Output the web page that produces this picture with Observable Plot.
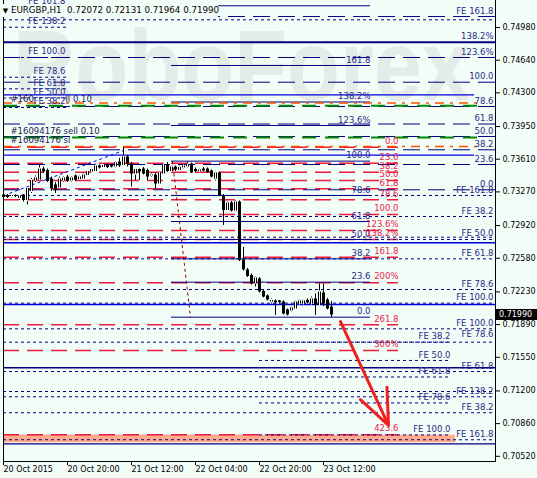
<!DOCTYPE html>
<html><head><meta charset="utf-8">
<script src="https://cdn.jsdelivr.net/npm/d3@7"></script>
<script src="https://cdn.jsdelivr.net/npm/@observablehq/plot@0.6"></script>
<style>
html,body{margin:0;padding:0;background:#f3fdf8;}
#wrap{position:relative;width:537px;height:478px;overflow:hidden;background:#f3fdf8;font-family:"DejaVu Sans",sans-serif;}
#wm{position:absolute;left:0;top:0;}
#chart{position:absolute;left:0;top:0;}
#hdr{position:absolute;left:0;top:4px;height:13px;width:218px;background:#f3fdf8;font-size:8.7px;line-height:13px;color:#000;white-space:pre;}
#price{position:absolute;left:496px;width:41px;height:11px;background:#000;color:#fff;font-size:8px;line-height:11px;padding-left:3px;box-sizing:border-box;}
</style></head>
<body>
<div id="wrap">
  <svg id="wm" width="537" height="478"><text x="13" y="100" font-family="Liberation Sans, Arial, sans-serif" font-weight="bold" font-size="100" fill="#e3ece9" textLength="457" lengthAdjust="spacingAndGlyphs">RoboForex</text></svg>
  <div id="chart"></div>
  <div id="hdr"> <span style="font-size:7px">▼</span> EURGBP,H1  0.72072 0.72131 0.71964 0.71990</div>
  <div id="price"></div>
</div>
<script>
// ---- candles (EURGBP H1, hour index from 20 Oct 04:00) ----
const opens  = [0.73212,0.73233,0.73222,0.73233,0.73202,0.73238,0.73181,0.73274,0.73389,0.73394,0.73508,0.73493,0.73404,0.73342,0.73311,0.73389,0.73425,0.73384,0.73436,0.73399,0.73404,0.73441,0.73477,0.73482,0.73540,0.73524,0.73550,0.73545,0.73529,0.73581,0.73545,0.73633,0.73560,0.73456,0.73503,0.73508,0.73493,0.73436,0.73446,0.73352,0.73456,0.73550,0.73482,0.73529,0.73493,0.73519,0.73529,0.73560,0.73503,0.73482,0.73508,0.73508,0.73488,0.73404,0.73467,0.73233,0.73077,0.73155,0.73071,0.73165,0.72562,0.72458,0.72401,0.72323,0.72364,0.72234,0.72188,0.72125,0.72136,0.72136,0.72125,0.72042,0.72032,0.72052,0.72104,0.72104,0.72141,0.72104,0.72156,0.72089,0.72219,0.72146,0.72072];
const highs  = [0.73254,0.73243,0.73243,0.73238,0.73233,0.73243,0.73316,0.73410,0.73436,0.73545,0.73529,0.73508,0.73425,0.73368,0.73425,0.73430,0.73441,0.73430,0.73446,0.73436,0.73462,0.73493,0.73514,0.73560,0.73550,0.73555,0.73560,0.73555,0.73586,0.73618,0.73732,0.73649,0.73576,0.73508,0.73508,0.73524,0.73508,0.73467,0.73462,0.73482,0.73560,0.73576,0.73540,0.73540,0.73540,0.73550,0.73581,0.73571,0.73519,0.73508,0.73524,0.73519,0.73498,0.73477,0.73477,0.73243,0.73170,0.73170,0.73181,0.73176,0.72692,0.72474,0.72416,0.72390,0.72380,0.72245,0.72198,0.72156,0.72146,0.72141,0.72136,0.72052,0.72078,0.72136,0.72146,0.72146,0.72156,0.72177,0.72208,0.72312,0.72312,0.72162,0.72131];
const lows   = [0.73196,0.73202,0.73207,0.73212,0.73181,0.73165,0.73134,0.73254,0.73368,0.73384,0.73462,0.73368,0.73274,0.73254,0.73300,0.73373,0.73368,0.73368,0.73378,0.73389,0.73399,0.73430,0.73467,0.73472,0.73508,0.73514,0.73514,0.73519,0.73519,0.73524,0.73534,0.73529,0.73321,0.73389,0.73389,0.73446,0.73389,0.73420,0.73300,0.73347,0.73451,0.73472,0.73472,0.73482,0.73482,0.73508,0.73519,0.73462,0.73472,0.73472,0.73477,0.73462,0.73415,0.73384,0.73222,0.72921,0.73066,0.73061,0.73061,0.72546,0.72448,0.72380,0.72302,0.72281,0.72219,0.72167,0.72136,0.72104,0.71985,0.72110,0.71990,0.71980,0.72021,0.72047,0.72099,0.72094,0.72104,0.72099,0.71985,0.72078,0.72078,0.72042,0.71964];
const closes = [0.73238,0.73212,0.73233,0.73222,0.73228,0.73181,0.73306,0.73389,0.73415,0.73508,0.73477,0.73378,0.73300,0.73285,0.73404,0.73415,0.73378,0.73415,0.73389,0.73425,0.73446,0.73482,0.73503,0.73540,0.73519,0.73545,0.73524,0.73529,0.73571,0.73540,0.73633,0.73560,0.73456,0.73503,0.73477,0.73456,0.73425,0.73446,0.73352,0.73467,0.73545,0.73482,0.73529,0.73498,0.73524,0.73540,0.73550,0.73467,0.73482,0.73498,0.73488,0.73472,0.73425,0.73467,0.73233,0.73077,0.73155,0.73071,0.73165,0.72557,0.72458,0.72390,0.72312,0.72375,0.72229,0.72177,0.72146,0.72141,0.72115,0.72120,0.72000,0.71990,0.72063,0.72125,0.72136,0.72136,0.72115,0.72156,0.72089,0.72229,0.72104,0.72052,0.71990];

// ---- axes ----
const yTicks = [0.74980,0.74640,0.74300,0.73950,0.73610,0.73270,0.72920,0.72580,0.72230,0.71890,0.71550,0.71200,0.70860,0.70520];
const xTicks = [0,16,32,48,64,80];
const xTickLabels = ["20 Oct 2015","20 Oct 20:00","21 Oct 12:00","22 Oct 04:00","22 Oct 20:00","23 Oct 12:00"];

// ---- long-dash FE expansion levels (full width, labels at right) ----
const feDashPrices = [0.75094,0.74668,0.74411,0.74158,0.73976,0.73846,0.73708,0.73555,0.73292];
const feDashLabels = ["FE 161.8","123.6%","100.0","78.6","61.8","50.0","38.2","23.6","0.0"];
const feSolidPrices = [0.74827];
const feSolidLabels = ["138.2%"];

// ---- navy Fibonacci retracement (hours 42 .. 91.75) ----
const fibPrices = [0.75206,0.74585,0.74205,0.73961,0.73590,0.73233,0.72962,0.72775,0.72574,0.72331,0.71967];
const fibLabels = ["","161.8","138.2%","123.6%","100.0","78.6","61.8","50.0","38.2","23.6","0.0"];
const fibRange = [42, 91.75];

// ---- red Fibonacci levels (hours 0 .. 98.75) ----
const redPrices = [0.73735,0.73569,0.73475,0.73389,0.73302,0.73188,0.73035,0.72869,0.72775,0.72591,0.72325,0.71888,0.71621,0.70744];
const redLabels = ["0.0","23.6","38.2","50.0","61.8","78.6","100.0","123.6%","138.2%","161.8","200%","261.8","300%","423.6"];
const redRange = [0, 98.75];

// ---- dotted FE lines, full width ----
const dotPrices = [0.75060,0.73233,0.73014,0.72799,0.72775,0.72574,0.72255,0.72113,0.71846,0.71707,0.71402,0.71194,0.71139,0.70973,0.70692];
const feRightLabelPrices = [0.73233,0.73014,0.72779,0.72574,0.72255,0.72113,0.71846,0.71730,0.71402,0.71139,0.70973,0.70692];
const feRightLabels = ["FE 161.8","FE 38.2","FE 50.0","FE 61.8","FE 78.6","FE 100.0","FE 100.0","FE 78.6","FE 61.8","FE 138.2","FE 38.2","FE 161.8"];

// ---- dotted FE lines, middle set (hours 64 .. 111.75) ----
const feMidPrices = [0.71707,0.71517,0.71345,0.71075,0.70742];
const feMidLabels = ["FE 38.2","FE 50.0","FE 61.8","FE 78.6","FE 100.0"];
const feMidRange = [64, 111.75];

// ---- dotted FE lines, left set (hours 0 .. 16) ----
const feLeftPrices = [0.75188,0.74983,0.74668,0.74463,0.74342,0.74247,0.74148];
const feLeftLabels = ["FE 161.8","FE 138.2","FE 100.0","FE 78.6","FE 61.8","FE 50.0","FE 38.2"];
const feLeftRange = [0, 16];

// ---- solid lines ----
const bluePrices = [0.74280,0.73652,0.72741,0.72099];
const blueEnds = [117.75,117.75,123,123];
const navyPrices = [0.71441,0.70650];

// ---- order lines ----
const orderOrangePrices = [0.74195,0.73742];
const orderGreenPrices = [0.74166,0.73836];
const orderEnd = 118.5;
const orderLabels = ["#160","ll 0.10","#16094176 sell 0.10","#16094176 sl"];
const orderLabelX = [1.75,15.5,1.75,1.75];
const orderLabelPrices = [0.74166,0.74166,0.73836,0.73742];

// ---- target zone, arrow, trend lines ----
const zone = [{x1:0, x2:113, y1:0.70740, y2:0.70661}];
const arrow = [{x1:84.25, y1:0.71922, x2:96.25, y2:0.70841}];
const fibTrend = [{x1:42.25, y1:0.73586, x2:46.75, y2:0.71964}];
const feTrend = [{x1:1.5, y1:0.73254, x2:30, y2:0.73701}];

const candles = opens.map((o, i) => ({i, o, h: highs[i], l: lows[i], c: closes[i]}));
const pair = (ps, ls) => ps.map((p, k) => ({p, t: ls[k]}));

const NAVY = "#000080", LBL = "#2a2a8a", RED = "#ee1c3a", RLBL = "#e8234a", BLUE = "#0000dd";

const chart = Plot.plot({
  width: 537, height: 478,
  marginLeft: 3, marginRight: 42, marginTop: 0, marginBottom: 17,
  style: {background: "transparent", fontFamily: "DejaVu Sans, sans-serif"},
  x: {domain: [0, 123], label: null},
  y: {domain: [yTicks[yTicks.length - 1], yTicks[0]], range: [455.8, 27], label: null},
  marks: [
    Plot.rect(zone, {x1: "x1", x2: "x2", y1: "y1", y2: "y2", fill: "#ffab8c"}),
    // red fib
    Plot.ruleY(redPrices, {x1: redRange[0], x2: redRange[1], stroke: RED, strokeWidth: 1.5, strokeDasharray: "16,8"}),
    // dotted
    Plot.ruleY(dotPrices, {x1: 0, x2: 123, stroke: NAVY, strokeDasharray: "3,3"}),
    Plot.ruleY(feMidPrices, {x1: feMidRange[0], x2: feMidRange[1], stroke: NAVY, strokeDasharray: "3,3"}),
    Plot.ruleY(feLeftPrices, {x1: feLeftRange[0], x2: feLeftRange[1], stroke: NAVY, strokeDasharray: "3,3"}),
    // long dash
    Plot.ruleY(feDashPrices, {x1: 0, x2: 123, stroke: NAVY, strokeDasharray: "17,8"}),
    Plot.ruleY(feSolidPrices, {x1: 0, x2: 123, stroke: NAVY, strokeWidth: 2}),
    // navy fib
    Plot.ruleY(fibPrices, {x1: fibRange[0], x2: fibRange[1], stroke: NAVY}),
    // solid blue / navy
    Plot.ruleY(pair(bluePrices, blueEnds), {y: "p", x1: 0, x2: "t", stroke: BLUE, strokeWidth: 1.3}),
    Plot.ruleY(navyPrices, {x1: 0, x2: 123, stroke: NAVY, strokeWidth: 1.3}),
    // orders
    Plot.ruleY(orderOrangePrices, {x1: 0, x2: orderEnd, stroke: "#ff5000", strokeWidth: 1.5, strokeDasharray: "9,6,3,6"}),
    Plot.ruleY(orderGreenPrices, {x1: 0, x2: orderEnd, stroke: "#008800", strokeWidth: 2, strokeDasharray: "14,9"}),
    // trend lines
    Plot.link(feTrend, {x1: "x1", y1: "y1", x2: "x2", y2: "y2", stroke: "#0000ff", strokeDasharray: "3,3"}),
    Plot.link(fibTrend, {x1: "x1", y1: "y1", x2: "x2", y2: "y2", stroke: "#8b0000", strokeDasharray: "3,3"}),
    // candles
    Plot.ruleX(candles, {x: "i", y1: "l", y2: "h", stroke: "#000"}),
    Plot.ruleX(candles, {x: "i", y1: "o", y2: "c", stroke: "#000", strokeWidth: 3}),
    Plot.ruleX(candles.filter(d => d.c > d.o), {x: "i", y1: "o", y2: "c", stroke: "#fff", strokeWidth: 1, insetTop: 1, insetBottom: 1}),
    // arrow
    Plot.arrow(arrow, {x1: "x1", y1: "y1", x2: "x2", y2: "y2", stroke: "#ee2020", strokeWidth: 3, headLength: 24, headAngle: 45}),
    // labels
    Plot.text(pair(feDashPrices, feDashLabels), {x: 122.5, y: "p", text: "t", textAnchor: "end", dy: -5.5, fontSize: 8.5, fill: LBL}),
    Plot.text(pair(feSolidPrices, feSolidLabels), {x: 122.5, y: "p", text: "t", textAnchor: "end", dy: -5.5, fontSize: 8.5, fill: LBL}),
    Plot.text(pair(fibPrices, fibLabels), {x: fibRange[1], y: "p", text: "t", textAnchor: "end", dy: -5.5, fontSize: 8.5, fill: LBL}),
    Plot.text(pair(redPrices, redLabels), {x: redRange[1], y: "p", text: "t", textAnchor: "end", dy: -6, fontSize: 8.5, fill: RLBL}),
    Plot.text(pair(feRightLabelPrices, feRightLabels), {x: 122.5, y: "p", text: "t", textAnchor: "end", dy: -5.5, fontSize: 8.5, fill: LBL}),
    Plot.text(pair(feMidPrices, feMidLabels), {x: feMidRange[1], y: "p", text: "t", textAnchor: "end", dy: -5.5, fontSize: 8.5, fill: LBL}),
    Plot.text(pair(feLeftPrices, feLeftLabels), {x: 15.5, y: "p", text: "t", textAnchor: "end", dy: -6, fontSize: 8.5, fill: LBL}),
    Plot.text(orderLabels.map((t, k) => ({t, x: orderLabelX[k], p: orderLabelPrices[k]})), {x: "x", y: "p", text: "t", textAnchor: "start", dy: -6.5, fontSize: 8.5, fill: "#202050"}),
    // axes and frame
    Plot.axisY(yTicks, {anchor: "right", tickSize: 4, tickPadding: 3, tickFormat: d => d.toFixed(5), fontSize: 8, fill: "#000", label: null}),
    Plot.axisX(xTicks, {anchor: "bottom", tickSize: 4, tickPadding: 1, tickFormat: d => xTickLabels[xTicks.indexOf(d)], textAnchor: "start", fontSize: 8, fill: "#000", label: null}),
    Plot.frame({anchor: "left"}),
    Plot.frame({anchor: "right"}),
    Plot.frame({anchor: "bottom"})
  ]
});
document.getElementById("chart").appendChild(chart);
const py = chart.scale("y").apply(closes[closes.length - 1]);
const pb = document.getElementById("price");
pb.style.top = (py - 5.5) + "px";
pb.textContent = closes[closes.length - 1].toFixed(5);
</script>
</body></html>
